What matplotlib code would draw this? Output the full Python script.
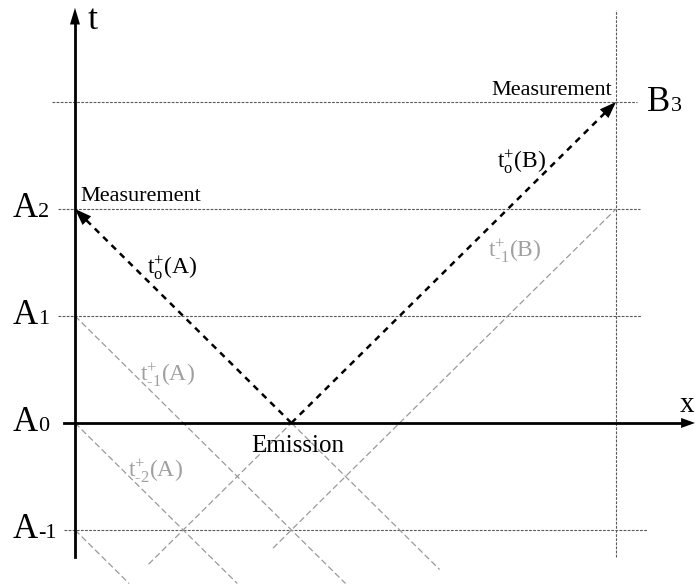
import matplotlib
matplotlib.use("Agg")
from matplotlib import pyplot as plt

plt.rcParams['font.family'] = ['Liberation Serif', 'DejaVu Serif']
plt.rcParams['mathtext.fontset'] = 'custom'
plt.rcParams['mathtext.rm'] = 'Liberation Serif'
plt.rcParams['mathtext.it'] = 'Liberation Serif'

# observer positions (light-time units) and clock ticks
x_A = 0
x_B = 5
x_emit = 2
t_emit = 0
levels_A = [-1, 0, 1, 2]
labels_A = ['-1', '0', '1', '2']
level_B = 3
label_B = '3'

# grey light rays (earlier signals), start and end points
ray_x0 = [0, 0, 0, 0.68, 1.83, 2]
ray_t0 = [1, 0, -1, -1.32, -1.17, 0]
ray_x1 = [2.5, 1.5, 0.5, 2, 5, 3.37]
ray_t1 = [-1.5, -1.5, -1.5, 0, 2, -1.37]

# ray labels
ray_text = [r'$\mathrm{t}^{+}_{\mathrm{o}}$(A)', r'$\mathrm{t}^{+}_{\text{-1}}$(A)',
            r'$\mathrm{t}^{+}_{\text{-2}}$(A)', r'$\mathrm{t}^{+}_{\mathrm{o}}$(B)',
            r'$\mathrm{t}^{+}_{\text{-1}}$(B)']
ray_text_x = [0.665, 0.60, 0.49, 3.90, 3.82]
ray_text_t = [1.393, 0.383, -0.505, 2.383, 1.551]
ray_text_col = ['black', '#a0a0a0', '#a0a0a0', 'black', '#a0a0a0']

fig = plt.figure(figsize=(6.95, 5.87), dpi=100)
ax = fig.add_axes([0, 0, 1, 1])
ax.set_xlim(-0.693, 5.730)
ax.set_ylim(-1.533, 3.953)
ax.axis('off')

grid_col = '#5a5a5a'
# horizontal tick lines
spans = {3: (-0.21, 5.19), 2: (-0.16, 5.22), 1: (-0.16, 5.23), -1: (-0.10, 5.29)}
for lev in levels_A + [level_B]:
	if lev == 0:
		continue
	a, b = spans[lev]
	ax.plot([a, b], [lev, lev], color=grid_col, lw=0.8, ls=(0, (2.5, 1.2)), zorder=1)
# B world line
ax.plot([x_B, x_B], [-1.25, 3.86], color=grid_col, lw=0.8, ls=(0, (2.5, 1.2)), zorder=1)

# grey rays
for i in range(len(ray_x0)):
	ax.plot([ray_x0[i], ray_x1[i]], [ray_t0[i], ray_t1[i]], color='#9a9a9a',
			lw=0.9, ls=(0, (5, 2.5)), zorder=2)

# axes
ax.plot([x_A, x_A], [-1.25, 3.75], color='black', lw=2, zorder=4)
ax.plot([-0.10, 5.60], [0, 0], color='black', lw=2, zorder=4)
ax.annotate('', xy=(x_A, 3.88), xytext=(x_A, 3.65),
			arrowprops=dict(arrowstyle='-|>,head_length=0.6,head_width=0.18',
							mutation_scale=20, color='black', lw=0,
							shrinkA=0, shrinkB=0), zorder=5)
ax.annotate('', xy=(5.73, 0), xytext=(5.50, 0),
			arrowprops=dict(arrowstyle='-|>,head_length=0.5,head_width=0.18',
							mutation_scale=20, color='black', lw=0,
							shrinkA=0, shrinkB=0), zorder=5)
ax.text(0.12, 3.68, 't', fontsize=26, va='baseline', ha='left')
ax.text(5.59, 0.10, 'x', fontsize=21, va='baseline', ha='left')

# signals from emission to the two measurements
for xe, te in [(x_A, levels_A[-1]), (x_B, level_B)]:
	ax.plot([x_emit, xe], [t_emit, te], color='black', lw=1.8,
			ls=(0, (2.5, 2.2)), zorder=3)
	dx = (xe - x_emit) * 0.06
	dt = (te - t_emit) * 0.06
	ax.annotate('', xy=(xe, te), xytext=(xe - dx, te - dt),
				arrowprops=dict(arrowstyle='-|>,head_length=0.6,head_width=0.22',
								mutation_scale=20, color='black', lw=0,
								shrinkA=0, shrinkB=0), zorder=5)

# clock labels
for lev, lab in zip(levels_A, labels_A):
	ax.text(-0.573, lev - 0.075, 'A', fontsize=25, va='baseline', ha='left')
	ax.text(-0.340, lev - 0.075, lab, fontsize=16, va='baseline', ha='left')
ax.text(5.287, level_B - 0.085, 'B', fontsize=25, va='baseline', ha='left')
ax.text(5.505, level_B - 0.085, label_B, fontsize=16, va='baseline', ha='left')

ax.text(0.046, 2.075, 'Measurement', fontsize=16, va='baseline', ha='left')
ax.text(4.963, 3.065, 'Measurement', fontsize=16, va='baseline', ha='right')
ax.text(1.627, -0.271, 'Emission', fontsize=18, va='baseline', ha='left')

for s, x, t, c in zip(ray_text, ray_text_x, ray_text_t, ray_text_col):
	ax.text(x, t, s, fontsize=17, color=c, va='baseline', ha='left')

plt.savefig('out.png', dpi=100)
